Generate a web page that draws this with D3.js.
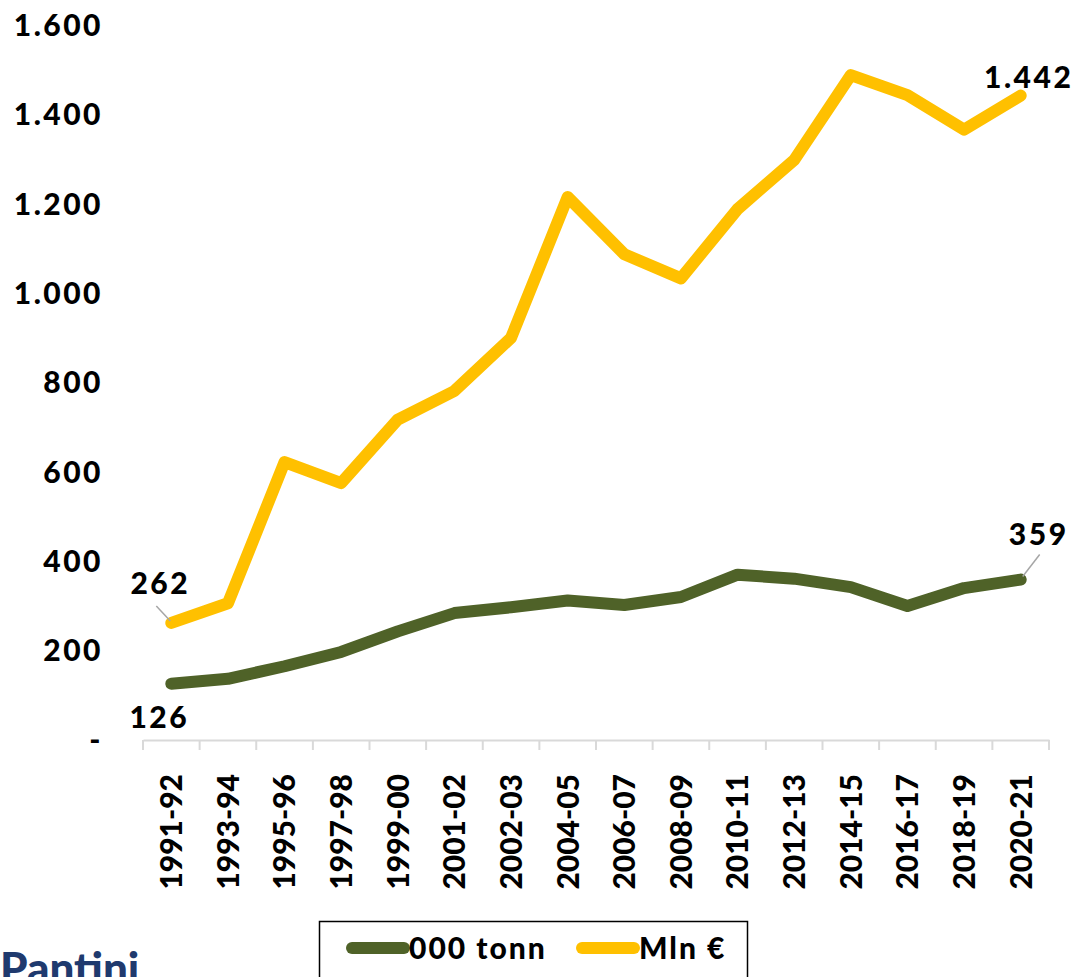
<!DOCTYPE html>
<html><head><meta charset="utf-8">
<script src="https://cdn.jsdelivr.net/npm/d3@7/dist/d3.min.js"></script>
<style>
html,body{margin:0;padding:0;background:#fff;overflow:hidden;}
svg text{font-family:Lato, "Open Sans", sans-serif;font-weight:900;fill:#000;}
</style></head>
<body>
<svg id="c" width="1073" height="977"></svg>
<script>
const categories = ["1991-92","1993-94","1995-96","1997-98","1999-00","2001-02","2002-03","2004-05","2006-07","2008-09","2010-11","2012-13","2014-15","2016-17","2018-19","2020-21"];
const tonnValues = [126,137,165,197,243,284,297,312,302,320,370,361,342,300,340,359];
const mlnValues = [262,306,622,575,717,781,900,1215,1087,1033,1188,1298,1488,1443,1366,1442];
const yTicks = [0,200,400,600,800,1000,1200,1400,1600];
const yTickLabels = ["-","200","400","600","800","1.000","1.200","1.400","1.600"];
const seriesNames = ["000 tonn","Mln €"];
const seriesColors = ["#4F6228","#FFC000"];

const svg = d3.select("#c");
const x = d3.scaleBand().domain(categories).range([143,1049]);
const y = d3.scaleLinear().domain([0,1600]).range([740,25]);

// y labels
svg.append("g").selectAll("text").data(yTicks).join("text")
  .attr("x",103).attr("y",d=>y(d)).attr("dy","0.36em")
  .attr("text-anchor","end").attr("font-size",30).attr("letter-spacing",2.5)
  .text((d,i)=>yTickLabels[i]);

// x axis
const xa = svg.append("g").attr("transform","translate(0,740)")
  .call(d3.axisBottom(x).tickSize(0).tickPadding(0));
xa.select(".domain").attr("stroke","#d9d9d9").attr("stroke-width",2);
xa.selectAll(".tick text").remove();
const bounds = categories.map(c=>x(c)).concat([x.range()[1]]);
svg.append("g").selectAll("line").data(bounds).join("line")
  .attr("x1",d=>d).attr("x2",d=>d).attr("y1",740).attr("y2",750)
  .attr("stroke","#d9d9d9").attr("stroke-width",2);
svg.append("g").selectAll("text").data(categories).join("text")
  .attr("transform",d=>`translate(${x(d)+x.bandwidth()/2},774) rotate(-90)`)
  .attr("dy","0.36em").attr("text-anchor","end").attr("font-size",30)
  .text(d=>d);

const cx = d=>x(d)+x.bandwidth()/2;
const line = d3.line().x((d,i)=>cx(categories[i])).y(d=>y(d));
[tonnValues,mlnValues].forEach((vals,k)=>{
  svg.append("path").datum(vals).attr("d",line)
    .attr("fill","none").attr("stroke",seriesColors[k]).attr("stroke-width",12)
    .attr("stroke-linejoin","round").attr("stroke-linecap","round");
});

// data labels
const fmt = v => v.toLocaleString("de-DE");
const last = categories.length-1;
function label(val, idx, dx, dy, leader){
  const px = cx(categories[idx]), py = y(val);
  if(leader){
    svg.append("line").attr("x1",px+leader[0]).attr("y1",py+leader[1])
      .attr("x2",px+leader[2]).attr("y2",py+leader[3])
      .attr("stroke","#a6a6a6").attr("stroke-width",1.5);
  }
  svg.append("text").attr("x",px+dx).attr("y",py+dy)
    .attr("text-anchor","middle").attr("font-size",30).attr("letter-spacing",2.5).text(fmt(val));
}
label(mlnValues[0],0,-11,-29,[-1,-2,-15,-17]);
label(tonnValues[0],0,-12,44,null);
label(tonnValues[last],last,18,-35,[2,-3,19,-25]);
label(mlnValues[last],last,8,-8,null);

// legend
const lg = svg.append("g");
lg.append("rect").attr("x",319.5).attr("y",921.5).attr("width",428).attr("height",70)
  .attr("fill","none").attr("stroke","#000").attr("stroke-width",1.5);
const legX = [352,582];
seriesNames.forEach((n,k)=>{
  lg.append("line").attr("x1",legX[k]).attr("x2",legX[k]+52).attr("y1",948).attr("y2",948)
    .attr("stroke",seriesColors[k]).attr("stroke-width",12).attr("stroke-linecap","round");
  lg.append("text").attr("x",legX[k]+57).attr("y",948).attr("dy","0.36em")
    .attr("font-size",30).attr("letter-spacing",2).text(n);
});

svg.append("text").attr("x",0).attr("y",984).attr("font-size",44)
  .style("fill","#1F3A6E").attr("font-weight",700).text("Pantini");
</script>
</body></html>
